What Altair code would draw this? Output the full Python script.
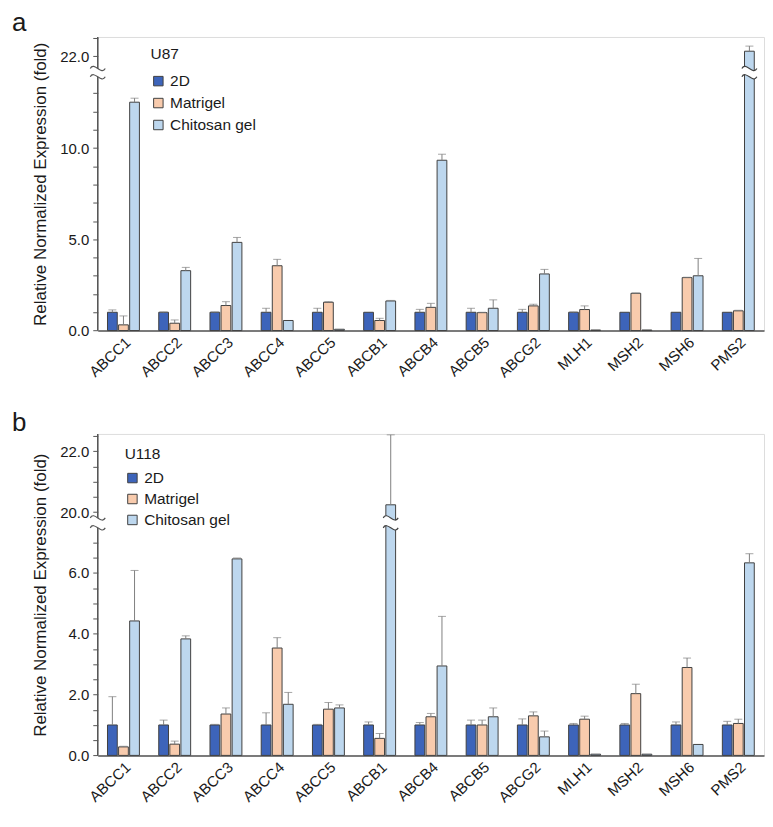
import altair as alt
import pandas as pd

genes = ["ABCC1", "ABCC2", "ABCC3", "ABCC4", "ABCC5", "ABCB1", "ABCB4",
         "ABCB5", "ABCG2", "MLH1", "MSH2", "MSH6", "PMS2"]
conditions = ["2D", "Matrigel", "Chitosan gel"]
colors = ["#3D64BA", "#F8CBAD", "#BDD7EE"]

# Panel a: U87
u87_2d = [1.0, 1.0, 1.0, 1.0, 1.0, 1.0, 1.0, 1.0, 1.0, 1.0, 1.0, 1.0, 1.0]
u87_2d_err = [0.13, 0.02, 0.02, 0.22, 0.22, 0.0, 0.16, 0.22, 0.16, 0.02, 0.0, 0.0, 0.0]
u87_mat = [0.31, 0.40, 1.37, 3.55, 1.55, 0.55, 1.27, 0.98, 1.35, 1.15, 2.04, 2.90, 1.08]
u87_mat_err = [0.49, 0.18, 0.21, 0.35, 0.03, 0.12, 0.22, 0.02, 0.09, 0.20, 0.02, 0.02, 0.03]
u87_chi = [12.51, 3.28, 4.83, 0.55, 0.07, 1.62, 9.33, 1.22, 3.10, 0.03, 0.03, 3.00, 22.27]
u87_chi_err = [0.22, 0.18, 0.27, 0.0, 0.0, 0.03, 0.33, 0.46, 0.25, 0.0, 0.0, 0.95, 0.28]

# Panel b: U118
u118_2d = [1.0, 1.0, 1.0, 1.0, 1.0, 1.0, 1.0, 1.0, 1.0, 1.0, 1.0, 1.0, 1.0]
u118_2d_err = [0.93, 0.16, 0.02, 0.40, 0.02, 0.10, 0.08, 0.16, 0.20, 0.05, 0.05, 0.10, 0.12]
u118_mat = [0.28, 0.37, 1.36, 3.53, 1.52, 0.56, 1.27, 1.00, 1.30, 1.19, 2.03, 2.89, 1.05]
u118_mat_err = [0.02, 0.10, 0.20, 0.34, 0.22, 0.16, 0.11, 0.16, 0.13, 0.10, 0.31, 0.31, 0.14]
u118_chi = [4.42, 3.83, 6.46, 1.68, 1.56, 20.24, 2.94, 1.27, 0.61, 0.04, 0.04, 0.36, 6.33]
u118_chi_err = [1.66, 0.10, 0.03, 0.39, 0.10, 2.30, 1.63, 0.29, 0.19, 0.0, 0.0, 0.0, 0.30]

# axis break settings (value below break, value above break, axis top)
a_break = dict(lo=13.9, hi=21.32, top=23.05, k=18.3, gap=8.3,
               ticks=list(range(0, 14)) + [22, 23], major=[0, 5, 10, 22])
b_break = dict(lo=7.48, hi=19.81, top=22.57, k=30.5, gap=10.0,
               ticks=[i * 0.5 for i in range(0, 15)] + [20, 20.5, 21, 21.5, 22, 22.5],
               major=[0, 2, 4, 6, 20, 22])

FONT = "Liberation Sans"
YTITLE = "Relative Normalized Expression (fold)"
W_BRK = 15.0  # width of the break squiggle, px


def wave(yc, a=1.0):
    return "M -1 %.3f C -0.5 %.3f 0.5 %.3f 1 %.3f" % (yc, yc - a, yc + a, yc)


def band(g, a=1.0):
    return ("M -1 %.3f C -0.5 %.3f 0.5 %.3f 1 %.3f L 1 %.3f C 0.5 %.3f -0.5 %.3f -1 %.3f Z"
            % (-g, -g - a, -g + a, -g, g, g + a, g - a, g))


def panel(letter, letter_y, cell, series, br, legend_xy, title_pad, row_pad):
    rows = []
    for cond, (vals, errs) in zip(conditions, series):
        for g, v, e in zip(genes, vals, errs):
            rows.append(dict(gene=g, cond=cond, v=v, e=e, top=v + e))
    df = pd.DataFrame(rows)
    lo, hi, top, k, gap = br["lo"], br["hi"], br["top"], br["k"], br["gap"]
    mid = (lo + hi) / 2.0
    tall = df[df["v"] > hi].assign(mid=mid)
    errs = df[df["e"] > 0.015]

    H = lo * k + gap + (top - hi) * k
    yscale = alt.Scale(domain=[0, lo, hi, top],
                       range=[H, H - lo * k, H - lo * k - gap, 0],
                       nice=False, zero=False)
    yaxis = alt.Axis(values=br["ticks"], domain=False, grid=False,
                     labelExpr="indexof(%s, datum.value) >= 0 ? format(datum.value, '.1f') : ''" % str(br["major"]),
                     tickColor="#555555", tickSize=5, tickWidth=1, labelOverlap=False,
                     labelFontSize=15, labelColor="#1a1a1a", labelPadding=4,
                     titleFontSize=17, titleFontWeight="normal", titleColor="#1a1a1a",
                     titlePadding=10, labelFlush=False)

    def Y(field):
        return alt.Y(field, type="quantitative", scale=yscale, axis=yaxis, title=YTITLE)

    X = alt.X("gene:N", sort=genes,
              scale=alt.Scale(paddingInner=0.377, paddingOuter=0.19),
              axis=alt.Axis(title=None, labelAngle=-43, labelFontSize=15, ticks=False,
                            domainColor="#555555", domainWidth=1.5, labelPadding=4,
                            labelColor="#1a1a1a", grid=False))
    XO = alt.XOffset("cond:N", sort=conditions,
                     scale=alt.Scale(paddingInner=0.12, paddingOuter=0.0))

    bars = alt.Chart(df).mark_bar(stroke="#404040", strokeWidth=1).encode(
        x=X, xOffset=XO, y=Y("v"), y2=alt.datum(0),
        color=alt.Color("cond:N", sort=conditions,
                        scale=alt.Scale(domain=conditions, range=colors),
                        legend=alt.Legend(title=cell, orient="none",
                                          legendX=legend_xy[0], legendY=legend_xy[1],
                                          symbolType="square", symbolSize=90,
                                          symbolStrokeColor="#404040", symbolStrokeWidth=1,
                                          labelFontSize=15.5, titleFontSize=15.5,
                                          titleFontWeight="normal", labelColor="#1a1a1a",
                                          titleColor="#1a1a1a", rowPadding=row_pad,
                                          titlePadding=title_pad, labelOffset=4, padding=0)))
    err_rule = alt.Chart(errs).mark_rule(color="#808080", strokeWidth=1).encode(
        x=X, xOffset=XO, y=Y("v"), y2="top")
    err_cap = alt.Chart(errs).mark_tick(color="#808080", thickness=1, size=8).encode(
        x=X, xOffset=XO, y=Y("top"))

    axis_line = alt.Chart(pd.DataFrame(dict(s=[0.0], e=[top]))).mark_rule(
        color="#555555", strokeWidth=1.5).encode(x=alt.value(0), y=Y("s"), y2="e")

    g = gap / W_BRK
    size = W_BRK * W_BRK
    brk_pt = pd.DataFrame(dict(mid=[mid]))
    axis_band = alt.Chart(brk_pt).mark_point(
        shape=band(g), size=size, filled=True, fill="white", strokeWidth=0, opacity=1).encode(
        x=alt.value(0), y=Y("mid"))
    bar_band = alt.Chart(tall).mark_point(
        shape=band(g), size=size, filled=True, fill="white", strokeWidth=0, opacity=1).encode(
        x=X, xOffset=XO, y=Y("mid"))
    layers = [bars, err_rule, err_cap, axis_line, axis_band, bar_band]
    for yc in (-g, g):
        layers.append(alt.Chart(brk_pt).mark_point(
            shape=wave(yc), size=size, filled=False, stroke="#555555",
            strokeWidth=1.2, opacity=1).encode(x=alt.value(0), y=Y("mid")))
        layers.append(alt.Chart(tall).mark_point(
            shape=wave(yc), size=size, filled=False, stroke="#404040",
            strokeWidth=1.2, opacity=1).encode(x=X, xOffset=XO, y=Y("mid")))

    label = alt.Chart(pd.DataFrame(dict(t=[letter]))).mark_text(
        fontSize=26, font=FONT, align="left", baseline="top", color="#1a1a1a").encode(
        x=alt.value(-86), y=alt.value(letter_y), text="t:N")
    layers.append(label)

    return alt.layer(*layers).properties(width=668, height=H)


pa = panel("a", -27, "U87",
           [(u87_2d, u87_2d_err), (u87_mat, u87_mat_err), (u87_chi, u87_chi_err)],
           a_break, (53, 10), 11, 5)
pb = panel("b", -24, "U118",
           [(u118_2d, u118_2d_err), (u118_mat, u118_mat_err), (u118_chi, u118_chi_err)],
           b_break, (27, 13), 8, 4)

chart = alt.vconcat(pa, pb, spacing=28).resolve_scale(color="independent").configure_view(
    stroke=None).configure(font=FONT).properties(
    padding={"left": 3, "top": 0, "right": 0, "bottom": 0})

chart.save("out.html", embed_options={"renderer": "svg", "actions": False})
